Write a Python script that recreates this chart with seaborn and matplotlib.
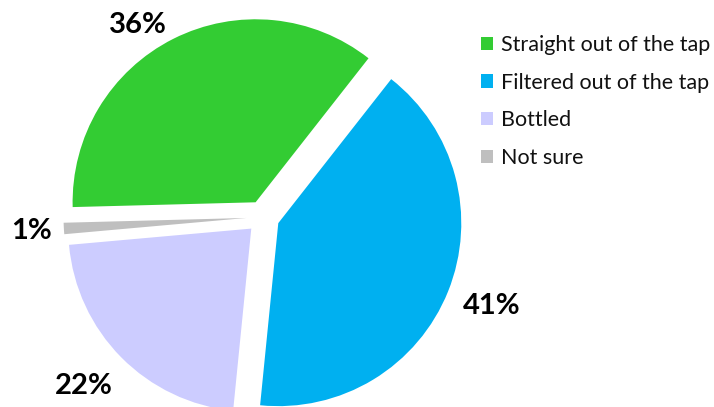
import matplotlib
matplotlib.use("Agg")
import matplotlib.pyplot as plt
import seaborn as sns

# Datos del gráfico
categories = ["Straight out of the tap", "Filtered out of the tap", "Bottled", "Not sure"]
shares = [36, 41, 22, 1]
slice_colors = ["#33CC33", "#00B0F0", "#CCCCFF", "#BFBFBF"]

sns.set_theme(style="white")
plt.rcParams["font.family"] = ["Lato", "DejaVu Sans"]

fig = plt.figure(figsize=(7.14, 4.07), dpi=100)
ax = fig.add_axes([0, 0, 1, 1])

palette = sns.color_palette(slice_colors)
wedges, texts, autotexts = ax.pie(
    shares,
    colors=palette,
    startangle=181.5,
    counterclock=False,
    explode=[0.09] * len(shares),
    autopct="%d%%",
    pctdistance=1.22,
    radius=1.0,
    wedgeprops={"linewidth": 0},
    textprops={"fontsize": 21, "fontweight": "bold", "color": "black"},
)

# Escala: raio 1 = 183 px, centro em (263, 217) px a partir do topo
r_px = 183
cx, cy = 263, 217
ax.set_xlim(-cx / r_px, (714 - cx) / r_px)
ax.set_ylim(-(407 - cy) / r_px, cy / r_px)
ax.set_aspect("auto")
ax.axis("off")

# pequenos ajustes de posição dos rótulos (em pixels)
nudges = [(-17, -22), (6, 0), (-9, 0), (8, 0)]
for t, (dx, dy) in zip(autotexts, nudges):
    x, y = t.get_position()
    t.set_position((x + dx / r_px, y + dy / r_px))

leg = fig.legend(
    wedges,
    categories,
    loc="upper left",
    bbox_to_anchor=(481 / 714, 1 - 35 / 407),
    frameon=False,
    fontsize=15.5,
    handlelength=0.58,
    handleheight=0.58,
    handletextpad=0.35,
    labelspacing=0.82,
    borderpad=0,
    borderaxespad=0,
)
for txt in leg.get_texts():
    txt.set_color("#111111")

fig.savefig("out.png", dpi=100)
plt.close(fig)
